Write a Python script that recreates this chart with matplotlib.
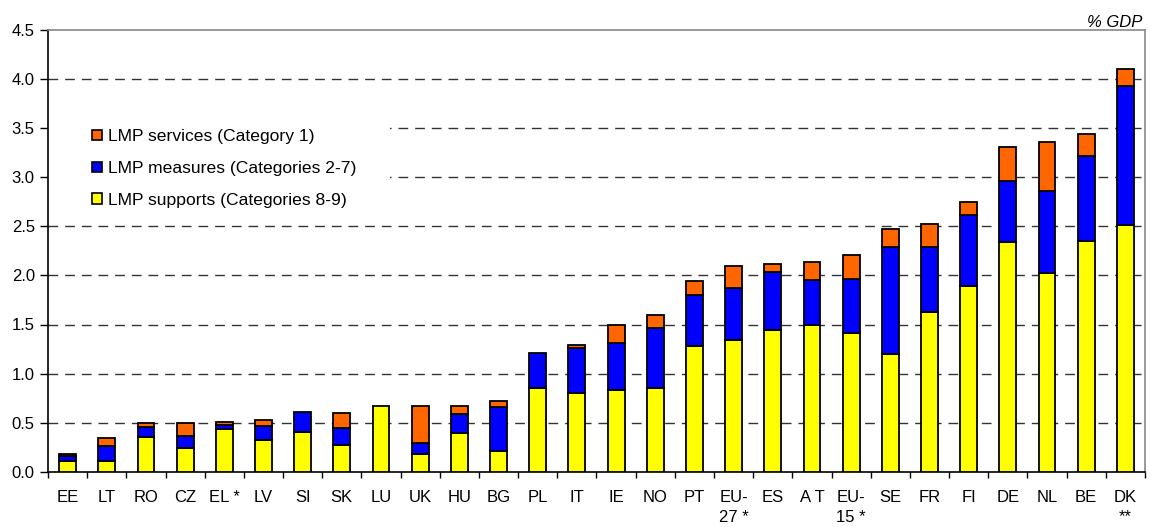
import matplotlib
matplotlib.use("Agg")
import matplotlib.pyplot as plt
from matplotlib.patches import Patch, Rectangle
import numpy as np

plt.rcParams['font.family'] = ['Liberation Sans', 'DejaVu Sans']

categories = ["EE", "LT", "RO", "CZ", "EL *", "LV", "SI", "SK", "LU", "UK", "HU", "BG",
              "PL", "IT", "IE", "NO", "PT", "EU-\n27 *", "ES", "A T", "EU-\n15 *", "SE",
              "FR", "FI", "DE", "NL", "BE", "DK\n**"]
supports = [0.11, 0.11, 0.36, 0.245, 0.44, 0.325, 0.41, 0.27, 0.67, 0.18, 0.395, 0.215,
            0.85, 0.805, 0.835, 0.85, 1.28, 1.34, 1.44, 1.49, 1.41, 1.20,
            1.625, 1.89, 2.335, 2.025, 2.35, 2.515]
measures = [0.05, 0.15, 0.10, 0.12, 0.04, 0.145, 0.20, 0.18, 0.0, 0.115, 0.195, 0.445,
            0.365, 0.46, 0.475, 0.61, 0.525, 0.53, 0.595, 0.465, 0.55, 1.085,
            0.66, 0.72, 0.62, 0.835, 0.86, 1.415]
services = [0.02, 0.09, 0.04, 0.13, 0.03, 0.06, 0.0, 0.155, 0.0, 0.375, 0.08, 0.06,
            0.0, 0.03, 0.185, 0.135, 0.135, 0.23, 0.08, 0.18, 0.245, 0.185,
            0.24, 0.14, 0.35, 0.50, 0.225, 0.17]
series_labels = ["LMP services (Category 1)", "LMP measures (Categories 2-7)",
                 "LMP supports (Categories 8-9)"]
yticks = [0.0, 0.5, 1.0, 1.5, 2.0, 2.5, 3.0, 3.5, 4.0, 4.5]

c_sup, c_mea, c_ser = "#FFFF00", "#0000FF", "#FF6600"

fig = plt.figure(figsize=(11.51, 5.27), dpi=100)
ax = fig.add_axes([48/1151, 55/527, (1145-48)/1151, (472-29.5)/527])

x = np.arange(len(categories))
sup = np.array(supports); mea = np.array(measures); ser = np.array(services)
w = 0.43
kw = dict(width=w, edgecolor="black", linewidth=1.3, zorder=3)
ax.bar(x, sup, color=c_sup, **kw)
mask = mea > 0
ax.bar(x[mask], mea[mask], bottom=sup[mask], color=c_mea, **kw)
mask = ser > 0
ax.bar(x[mask], ser[mask], bottom=(sup + mea)[mask], color=c_ser, **kw)

ax.set_xlim(-0.5, len(categories) - 0.5)
ax.set_ylim(0, 4.5)
ax.set_yticks(yticks)
ax.set_yticklabels([f"{v:.1f}" for v in yticks], fontsize=12)
ax.tick_params(axis='y', direction='out', length=6, width=1, pad=3.5, colors='black')

ax.set_xticks(x)
ax.set_xticklabels(categories, fontsize=12, linespacing=1.38)
ax.set_xticks(np.arange(len(categories) + 1) - 0.5, minor=True)
ax.tick_params(axis='x', which='major', length=0, pad=13)
ax.tick_params(axis='x', which='minor', direction='out', length=4, width=1)

for v in yticks[1:-1]:
    ax.axhline(v, color="#333333", linewidth=1.0, linestyle=(0, (7, 5)), zorder=1)

for s in ['top', 'right']:
    ax.spines[s].set_color('#888888')
    ax.spines[s].set_linewidth(1.2)
for s in ['left', 'bottom']:
    ax.spines[s].set_color('black')
    ax.spines[s].set_linewidth(1.2)

# white area behind legend
ax.add_patch(Rectangle((0, (472-212)/442.5), (390-48)/1097, (212-105)/442.5,
                       transform=ax.transAxes, facecolor='white', edgecolor='none', zorder=2))

handles = [Patch(facecolor=c_ser, edgecolor='black', linewidth=1.2),
           Patch(facecolor=c_mea, edgecolor='black', linewidth=1.2),
           Patch(facecolor=c_sup, edgecolor='black', linewidth=1.2)]
ax.legend(handles, series_labels, loc='upper left', frameon=False,
          bbox_to_anchor=((92-48)/1097, (472-129)/442.5), fontsize=12.6,
          handlelength=0.57, handleheight=0.55, handletextpad=0.36,
          labelspacing=0.97, borderpad=0, borderaxespad=0)

fig.text(1142/1151, 1 - 27/527, "% GDP", ha='right', va='baseline',
         fontsize=12, style='italic')

fig.savefig("out.png", dpi=100)
